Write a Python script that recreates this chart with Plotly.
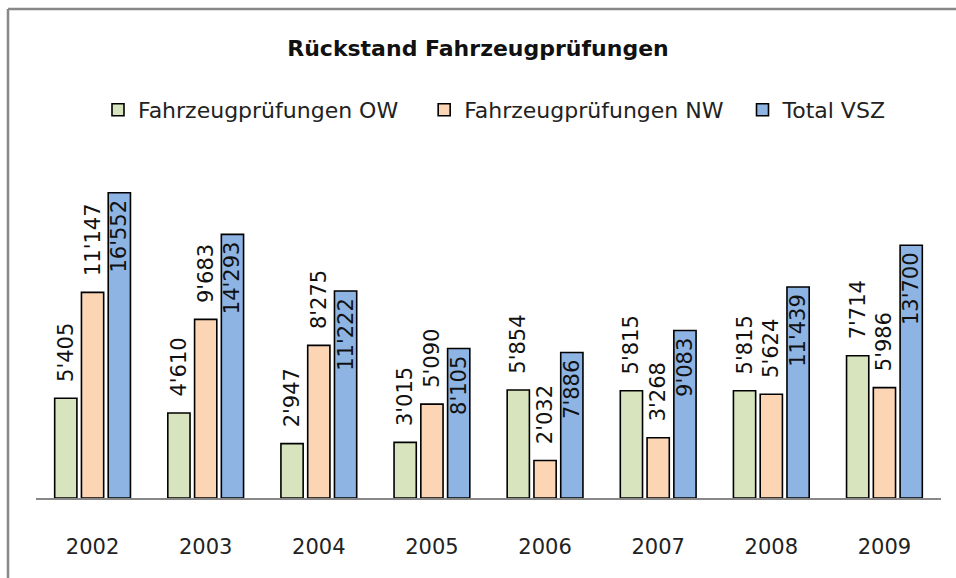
import plotly.graph_objects as go

years = ["2002", "2003", "2004", "2005", "2006", "2007", "2008", "2009"]
ow = [5405, 4610, 2947, 3015, 5854, 5815, 5815, 7714]
nw = [11147, 9683, 8275, 5090, 2032, 3268, 5624, 5986]
total = [16552, 14293, 11222, 8105, 7886, 9083, 11439, 13700]

names = ["Fahrzeugprüfungen OW", "Fahrzeugprüfungen NW", "Total VSZ"]
colors = ["#D7E4BD", "#FCD5B5", "#8EB4E3"]

FONT = "DejaVu Sans"
fig = go.Figure()

for vals, name, col, pos, pad in [(ow, names[0], colors[0], "outside", "\u00a0\u00a0\u00a0"),
                                  (nw, names[1], colors[1], "outside", "\u00a0\u00a0"),
                                  (total, names[2], colors[2], "inside", "")]:
    if pos == "outside":
        tmpl = "\u00a0\u00a0%{y:,}"
    else:
        tmpl = "%{y:,}\u2009"
    fig.add_trace(go.Bar(
        x=years, y=vals, name=name + pad,
        marker=dict(color=col, line=dict(color="black", width=1.6)),
        texttemplate=tmpl, textposition=pos, insidetextanchor="end",
        textangle=-90, constraintext="none", cliponaxis=False,
        textfont=dict(family=FONT, size=21, color="#111111"),
        insidetextfont=dict(family=FONT, size=21, color="#111111"),
        outsidetextfont=dict(family=FONT, size=21, color="#111111"),
        hoverinfo="skip",
    ))

L, R, T, B = 36, 15, 166, 80
W, H = 956, 578
pw, ph = W - L - R, H - T - B

def px_x(p):
    return (p - L) / pw

def px_y(p):
    return (H - B - p) / ph

fig.update_layout(
    width=W, height=H,
    margin=dict(l=L, r=R, t=T, b=B, pad=0, autoexpand=False),
    paper_bgcolor="white", plot_bgcolor="white",
    separators=".'",
    barmode="group", bargap=0.29, bargroupgap=0.17,
    font=dict(family=FONT, color="#222222"),
    title=dict(text="<b>Rückstand Fahrzeugprüfungen</b>",
               font=dict(family=FONT, size=22, color="#111111"),
               x=0.5, xref="container", xanchor="center",
               y=1 - 48 / H, yref="container", yanchor="middle"),
    legend=dict(orientation="h", x=(112 - 14) / W, xanchor="left", xref="container",
                y=1 - 110 / H, yref="container", yanchor="middle",
                font=dict(family=FONT, size=22, color="#222222"),
                itemclick=False, itemdoubleclick=False,
                bgcolor="rgba(0,0,0,0)"),
    xaxis=dict(showline=True, linecolor="#888888", linewidth=1.5,
               showgrid=False, ticks="", ticklabelstandoff=29,
               automargin=False,
               tickfont=dict(family=FONT, size=21, color="#222222"),
               fixedrange=True),
    yaxis=dict(range=[0, 18000], visible=False, showgrid=False,
               automargin=False, fixedrange=True),
    showlegend=True,
    shapes=[
        dict(type="line", xref="paper", yref="paper",
             x0=px_x(8), x1=px_x(8), y0=px_y(9), y1=px_y(590),
             line=dict(color="#888888", width=2.5)),
        dict(type="line", xref="paper", yref="paper",
             x0=px_x(8), x1=px_x(970), y0=px_y(9), y1=px_y(9),
             line=dict(color="#888888", width=2.5)),
    ],
)

fig.write_html("out.html", config={"displayModeBar": False},
               post_script="document.body.style.margin='0px';"
                           "document.body.style.overflow='hidden';")
